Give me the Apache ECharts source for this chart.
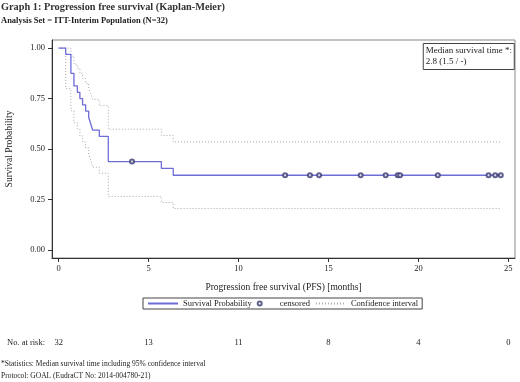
<!DOCTYPE html>
<html>
<head>
<meta charset="utf-8">
<script src="https://cdn.jsdelivr.net/npm/echarts@6/dist/echarts.min.js"></script>
<style>
  html, body { margin: 0; padding: 0; background: #fff; }
  #chart { width: 520px; height: 382px; }
</style>
</head>
<body>
<div id="chart"></div>
<script>
// Kaplan-Meier step curve (value holds from each time until the next one)
const kmTimes = [0, 0.39, 0.68, 0.85, 1.04, 1.18, 1.33, 1.5, 1.67, 1.78, 1.89, 2.26, 2.76, 5.71, 6.37, 24.58];
const kmSurv = [1, 0.969, 0.875, 0.8125, 0.781, 0.75, 0.719, 0.6875, 0.656, 0.625, 0.594, 0.5625, 0.4375, 0.404, 0.37, 0.37];
const upperCI = [1, 1, 0.96, 0.92, 0.9, 0.875, 0.85, 0.825, 0.8, 0.775, 0.745, 0.715, 0.598, 0.567, 0.535, 0.535];
const lowerCI = [1, 0.8, 0.69, 0.63, 0.6, 0.565, 0.535, 0.505, 0.475, 0.445, 0.41, 0.38, 0.265, 0.235, 0.205, 0.205];

// censored observations
const censorTimes = [4.08, 12.59, 13.97, 14.48, 16.79, 18.18, 18.85, 18.98, 21.08, 23.9, 24.27, 24.58];
const censorSurv = [0.4375, 0.37, 0.37, 0.37, 0.37, 0.37, 0.37, 0.37, 0.37, 0.37, 0.37, 0.37];

// axis ticks and number at risk
const xTicks = [0, 5, 10, 15, 20, 25];
const atRisk = [32, 13, 11, 8, 4, 0];
const yTicks = [0, 0.25, 0.5, 0.75, 1];

const serif = 'Liberation Serif';
const pair = (xs, ys) => xs.map((x, i) => [x, ys[i]]);

const chart = echarts.init(document.getElementById('chart'));

chart.setOption({
  backgroundColor: '#fff',
  animation: false,
  textStyle: { fontFamily: serif, color: '#222' },
  title: [
    {
      text: 'Graph 1: Progression free survival (Kaplan-Meier)',
      left: 1, top: 2, padding: 0,
      textStyle: { fontFamily: serif, fontSize: 10.3, fontWeight: 'bold', color: '#333' },
    },
    {
      text: 'Analysis Set = ITT-Interim Population (N=32)',
      left: 1, top: 16, padding: 0,
      textStyle: { fontFamily: serif, fontSize: 8.5, fontWeight: 'bold', color: '#222' },
    },
    {
      text: 'Median survival time *:\n2.8 (1.5 / -)',
      right: 5, top: 43, padding: [2, 3, 3, 3],
      borderColor: '#444', borderWidth: 1, backgroundColor: '#fff',
      textStyle: { fontFamily: serif, fontSize: 9, fontWeight: 'normal', color: '#222', lineHeight: 11 },
    },
  ],
  legend: {
    left: 143, top: 298,
    padding: [1, 4, 1, 4],
    borderColor: '#444', borderWidth: 1,
    itemWidth: 30, itemHeight: 4, itemGap: 5,
    textStyle: { fontFamily: serif, fontSize: 8.5, color: '#222' },
    data: [
      { name: 'Survival Probability', itemStyle: { opacity: 0 } },
      { name: 'censored' },
      { name: 'Confidence interval', itemStyle: { opacity: 0 } },
    ],
  },
  grid: {
    left: 52, right: 5, top: 40, bottom: 124,
    outerBoundsMode: 'none', containLabel: false,
    show: true, borderColor: '#888', borderWidth: 1,
  },
  xAxis: [
    {
      type: 'value', min: -0.37, max: 25.37,
      name: 'Progression free survival (PFS) [months]',
      nameLocation: 'middle', nameGap: 24,
      nameTextStyle: { fontFamily: serif, fontSize: 9.5, color: '#222' },
      axisLine: { onZero: false, lineStyle: { color: '#333' } },
      axisTick: { show: true, length: 4, customValues: xTicks, lineStyle: { color: '#333' } },
      axisLabel: { customValues: xTicks, margin: 6, fontFamily: serif, fontSize: 8.5, color: '#222' },
      splitLine: { show: false },
    },
    {
      type: 'value', min: -0.37, max: 25.37, position: 'bottom', offset: 80,
      axisLine: { show: false },
      axisTick: { show: false },
      axisLabel: {
        customValues: xTicks, margin: 0, fontFamily: serif, fontSize: 8.5, color: '#222',
        formatter: (v) => String(atRisk[xTicks.indexOf(v)]),
      },
      splitLine: { show: false },
    },
  ],
  yAxis: {
    type: 'value', min: -0.04, max: 1.04,
    name: 'Survival Probability',
    nameLocation: 'middle', nameGap: 38, nameRotate: 90,
    nameTextStyle: { fontFamily: serif, fontSize: 9.5, color: '#222' },
    axisLine: { show: true, onZero: false, lineStyle: { color: '#333' } },
    axisTick: { show: true, length: 4, customValues: yTicks, lineStyle: { color: '#333' } },
    axisLabel: { customValues: yTicks, margin: 7, fontFamily: serif, fontSize: 8.5, color: '#222', formatter: (v) => v.toFixed(2) },
    splitLine: { show: false },
  },
  graphic: [
    { type: 'text', left: 7, top: 338, style: { text: 'No. at risk:', font: '8.5px "Liberation Serif"', fill: '#222' } },
    { type: 'text', left: 1, top: 360, style: { text: '*Statistics: Median survival time including 95% confidence interval', font: '7.5px "Liberation Serif"', fill: '#222' } },
    { type: 'text', left: 1, top: 372, style: { text: 'Protocol: GOAL (EudraCT No: 2014-004780-21)', font: '7.5px "Liberation Serif"', fill: '#222' } },
  ],
  series: [
    {
      name: 'Confidence interval', type: 'line', step: 'end', symbol: 'none',
      lineStyle: { color: '#a8a8a8', width: 1, type: [1, 2] },
      itemStyle: { color: '#a8a8a8' },
      data: pair(kmTimes, upperCI), z: 1,
    },
    {
      name: 'Confidence interval', type: 'line', step: 'end', symbol: 'none',
      lineStyle: { color: '#a8a8a8', width: 1, type: [1, 2] },
      itemStyle: { color: '#a8a8a8' },
      data: pair(kmTimes, lowerCI), z: 1,
    },
    {
      name: 'Survival Probability', type: 'line', step: 'end', symbol: 'none',
      lineStyle: { color: '#6d6dd8', width: 1.3 },
      itemStyle: { color: '#6d6dd8' },
      data: pair(kmTimes, kmSurv), z: 2,
    },
    {
      name: 'censored', type: 'scatter', symbol: 'emptyCircle', symbolSize: 4,
      itemStyle: { color: '#3a3a72', borderColor: '#3a3a72', borderWidth: 0.8 },
      data: pair(censorTimes, censorSurv), z: 3,
    },
  ],
});
</script>
</body>
</html>
